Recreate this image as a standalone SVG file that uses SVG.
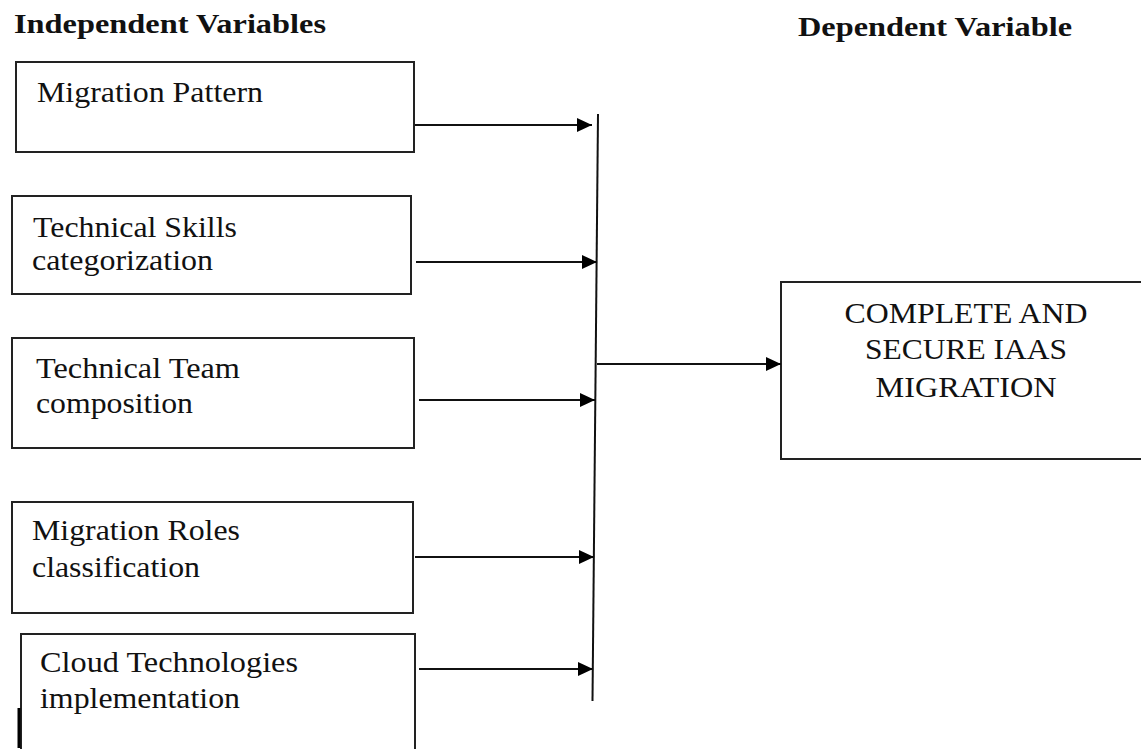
<svg xmlns="http://www.w3.org/2000/svg" width="1141" height="749" viewBox="0 0 1141 749">
  <style>
    .box { fill: #ffffff; stroke: #222222; stroke-width: 2; }
    .lbl { font-family: "Liberation Serif", "Times New Roman", serif; font-size: 29px; fill: #111111; }
    .out { font-family: "Liberation Serif", "Times New Roman", serif; font-size: 30px; fill: #111111; text-anchor: middle; }
    .hdr { font-family: "Liberation Serif", "Times New Roman", serif; font-size: 27px; font-weight: bold; fill: #111111; }
    .wire { fill: none; stroke: #111111; stroke-width: 2; }
  </style>
  <defs>
    <marker id="arrow" markerUnits="userSpaceOnUse" markerWidth="16" markerHeight="14" refX="15" refY="7" orient="auto">
      <path d="M0,0 L15,7 L0,14 Z" fill="#000000"/>
    </marker>
  </defs>

  <rect width="1141" height="749" fill="#ffffff"/>

  <!-- section headings -->
  <text class="hdr" x="14" y="33" textLength="312" lengthAdjust="spacingAndGlyphs">Independent Variables</text>
  <text class="hdr" x="798" y="36" textLength="274" lengthAdjust="spacingAndGlyphs">Dependent Variable</text>

  <!-- independent variable boxes -->
  <g id="migration-pattern">
    <rect class="box" x="16" y="62" width="398" height="90"/>
    <text class="lbl" x="37" y="102" textLength="226" lengthAdjust="spacingAndGlyphs">Migration Pattern</text>
  </g>

  <g id="technical-skills">
    <rect class="box" x="12" y="196" width="399" height="98"/>
    <text class="lbl" x="33" y="237" textLength="204" lengthAdjust="spacingAndGlyphs">Technical Skills</text>
    <text class="lbl" x="32" y="270" textLength="181" lengthAdjust="spacingAndGlyphs">categorization</text>
  </g>

  <g id="technical-team">
    <rect class="box" x="12" y="338" width="402" height="110"/>
    <text class="lbl" x="36" y="378" textLength="204" lengthAdjust="spacingAndGlyphs">Technical Team</text>
    <text class="lbl" x="36" y="413" textLength="157" lengthAdjust="spacingAndGlyphs">composition</text>
  </g>

  <g id="migration-roles">
    <rect class="box" x="12" y="502" width="401" height="111"/>
    <text class="lbl" x="32" y="540" textLength="208" lengthAdjust="spacingAndGlyphs">Migration Roles</text>
    <text class="lbl" x="32" y="577" textLength="168" lengthAdjust="spacingAndGlyphs">classification</text>
  </g>

  <g id="cloud-technologies">
    <rect class="box" x="21" y="634" width="394" height="130"/>
    <line x1="19" y1="708" x2="19" y2="748" stroke="#000000" stroke-width="3"/>
    <text class="lbl" x="40" y="672" textLength="258" lengthAdjust="spacingAndGlyphs">Cloud Technologies</text>
    <text class="lbl" x="40" y="708" textLength="200" lengthAdjust="spacingAndGlyphs">implementation</text>
  </g>

  <!-- dependent variable box -->
  <g id="iaas-migration">
    <rect class="box" x="781" y="282" width="380" height="177"/>
    <text class="out" x="966" y="323" textLength="243" lengthAdjust="spacingAndGlyphs">COMPLETE AND</text>
    <text class="out" x="966" y="359" textLength="202" lengthAdjust="spacingAndGlyphs">SECURE IAAS</text>
    <text class="out" x="966" y="397" textLength="181" lengthAdjust="spacingAndGlyphs">MIGRATION</text>
  </g>

  <!-- connectors -->
  <g id="connectors">
    <line class="wire" x1="598" y1="114" x2="592.5" y2="701"/>
    <line class="wire" x1="415" y1="125" x2="592" y2="125" marker-end="url(#arrow)"/>
    <line class="wire" x1="416" y1="262" x2="597" y2="262" marker-end="url(#arrow)"/>
    <line class="wire" x1="419" y1="400" x2="595" y2="400" marker-end="url(#arrow)"/>
    <line class="wire" x1="415" y1="557" x2="594" y2="557" marker-end="url(#arrow)"/>
    <line class="wire" x1="419" y1="669" x2="593" y2="669" marker-end="url(#arrow)"/>
    <line class="wire" x1="597" y1="364" x2="781" y2="364" marker-end="url(#arrow)"/>
  </g>
</svg>
